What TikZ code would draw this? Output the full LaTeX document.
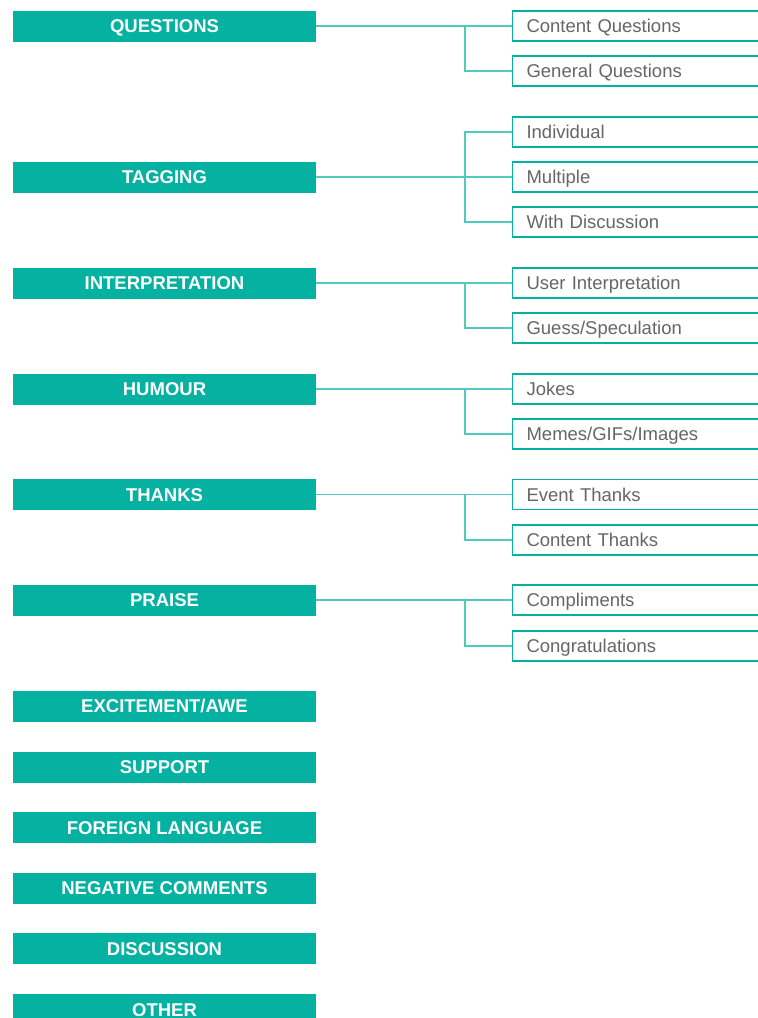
\documentclass[tikz,border=0pt]{standalone}
\usepackage{fontspec}
\setmainfont{Liberation Sans}
\usepackage{tikz}
\usetikzlibrary{positioning}
\definecolor{teal1}{HTML}{05B1A0}
\definecolor{tealline}{HTML}{4FCBBD}
\definecolor{labelgray}{HTML}{666666}

\begin{document}
\begin{tikzpicture}[x=1pt, y=-1pt,
    cat/.style={rectangle, fill=teal1, minimum width=303pt, minimum height=31pt, inner sep=0pt, text height=13.2pt, text depth=0pt, font=\fontsize{18.5}{20}\selectfont\bfseries, text=white, text centered},
    sub/.style={rectangle, draw=teal1, line width=1.1pt, fill=white, anchor=west, text width=236pt, inner xsep=14pt, minimum height=30pt, inner ysep=0pt, text height=13.2pt, text depth=0pt, font=\fontsize{18.5}{20}\selectfont, text=labelgray, align=left},
    link/.style={draw=tealline, line width=1.1pt}
]
    \clip (0,0) rectangle (758,1018);
    \useasboundingbox (0,0) rectangle (758,1018);

    % Categories
    \node[cat] (questions) at (164.5,26) {QUESTIONS};
    \node[cat] (tagging) at (164.5,177) {TAGGING};
    \node[cat] (interp) at (164.5,283) {INTERPRETATION};
    \node[cat] (humour) at (164.5,389) {HUMOUR};
    \node[cat] (thanks) at (164.5,494.5) {THANKS};
    \node[cat] (praise) at (164.5,600) {PRAISE};
    \node[cat] (excite) at (164.5,706) {EXCITEMENT/AWE};
    \node[cat] (support) at (164.5,767) {SUPPORT};
    \node[cat] (foreign) at (164.5,827.5) {FOREIGN LANGUAGE};
    \node[cat] (negative) at (164.5,888) {NEGATIVE COMMENTS};
    \node[cat] (discussion) at (164.5,948.5) {DISCUSSION};
    \node[cat] (other) at (164.5,1009.5) {OTHER};

    % Subcategories
    \node[sub] (contentq) at (512,26) {Content Questions};
    \node[sub] (generalq) at (512,71) {General Questions};
    \node[sub] (individual) at (512,132) {Individual};
    \node[sub] (multiple) at (512,177) {Multiple};
    \node[sub] (withdisc) at (512,222) {With Discussion};
    \node[sub] (userinterp) at (512,283) {User Interpretation};
    \node[sub] (guess) at (512,328) {Guess/Speculation};
    \node[sub] (jokes) at (512,389) {Jokes};
    \node[sub] (memes) at (512,434) {Memes/GIFs/Images};
    \node[sub] (eventthx) at (512,494.5) {Event Thanks};
    \node[sub] (contentthx) at (512,540) {Content Thanks};
    \node[sub] (compliments) at (512,600) {Compliments};
    \node[sub] (congrats) at (512,646) {Congratulations};

    % Branches
    \draw[link] (questions.east) -- (contentq.west);
    \draw[link] (generalq.west) -- ++(-47,0) |- (questions.east);
    \draw[link] (tagging.east) -- (multiple.west);
    \draw[link] (individual.west) -- ++(-47,0) |- (tagging.east);
    \draw[link] (withdisc.west) -- ++(-47,0) |- (tagging.east);
    \draw[link] (interp.east) -- (userinterp.west);
    \draw[link] (guess.west) -- ++(-47,0) |- (interp.east);
    \draw[link] (humour.east) -- (jokes.west);
    \draw[link] (memes.west) -- ++(-47,0) |- (humour.east);
    \draw[link] (thanks.east) -- (eventthx.west);
    \draw[link] (contentthx.west) -- ++(-47,0) |- (thanks.east);
    \draw[link] (praise.east) -- (compliments.west);
    \draw[link] (congrats.west) -- ++(-47,0) |- (praise.east);
\end{tikzpicture}
\end{document}
